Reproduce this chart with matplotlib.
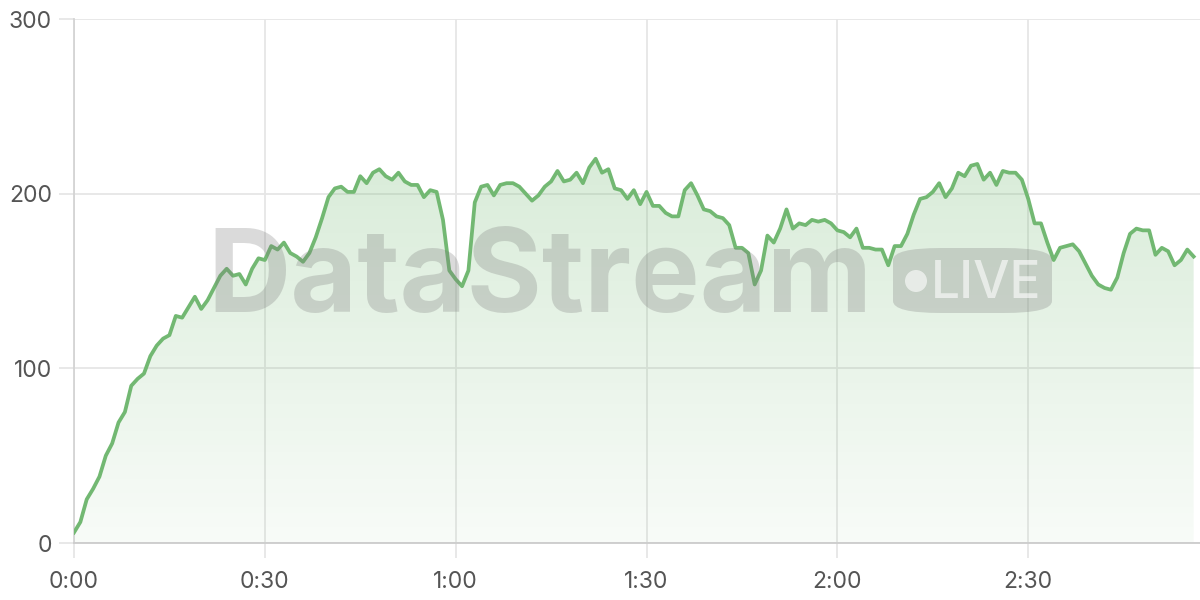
import numpy as np
import matplotlib
matplotlib.use("Agg")
import matplotlib.pyplot as plt
from matplotlib.colors import LinearSegmentedColormap
from matplotlib.patches import FancyBboxPatch, Ellipse

# one reading per second, 0:00 .. 2:56
values = [6, 12, 25, 31, 38, 50, 57, 69, 75, 90, 94, 97, 107, 113, 117, 119, 130, 129, 135, 141,
          134, 139, 146, 153, 157, 153, 154, 148, 157, 163, 162, 170, 168, 172, 166, 164, 161, 166, 175, 186,
          198, 203, 204, 201, 201, 210, 206, 212, 214, 210, 208, 212, 207, 205, 205, 198, 202, 201, 185, 156,
          151, 147, 156, 195, 204, 205, 199, 205, 206, 206, 204, 200, 196, 199, 204, 207, 213, 207, 208, 212,
          206, 215, 220, 212, 214, 203, 202, 197, 202, 194, 201, 193, 193, 189, 187, 187, 202, 206, 199, 191,
          190, 187, 186, 182, 169, 169, 166, 148, 156, 176, 172, 180, 191, 180, 183, 182, 185, 184, 185, 183,
          179, 178, 175, 180, 169, 169, 168, 168, 159, 170, 170, 177, 188, 197, 198, 201, 206, 198, 203, 212,
          210, 216, 217, 208, 212, 205, 213, 212, 212, 208, 197, 183, 183, 172, 162, 169, 170, 171, 167, 160,
          153, 148, 146, 145, 152, 166, 177, 180, 179, 179, 165, 169, 167, 159, 162, 168, 164]
seconds = np.arange(len(values))
xtick_vals = [0, 30, 60, 90, 120, 150]
xtick_labels = ["0:00", "0:30", "1:00", "1:30", "2:00", "2:30"]
ytick_vals = [0, 100, 200, 300]

green = "#72b872"
grid_c = "#e6e6e6"
text_c = "#555555"

plt.rcParams['font.family'] = ['Inter', 'DejaVu Sans']

fig = plt.figure(figsize=(12, 6), dpi=100)
ax = fig.add_axes([74/1200, 57/600, 1 - 74/1200, (543-19)/600])
ax.set_xlim(0, 177)
ax.set_ylim(0, 300)

# gradient fill under the line
cmap = LinearSegmentedColormap.from_list("g", [(0.447, 0.722, 0.447, 0.05), (0.447, 0.722, 0.447, 0.27)])
grad = np.linspace(0, 1, 256).reshape(-1, 1)
ymax = max(values)
im = ax.imshow(grad, cmap=cmap, aspect="auto", origin="lower",
               extent=[0, seconds[-1], 0, ymax], zorder=1)
poly = ax.fill_between(seconds, values, 0, color="none")
clip = poly.get_paths()[0]
im.set_clip_path(clip, transform=ax.transData)

ax.plot(seconds, values, color=green, lw=2.7, zorder=3)

ax.set_xticks(xtick_vals)
ax.set_xticklabels(xtick_labels)
ax.set_yticks(ytick_vals)
ax.grid(True, color=grid_c, lw=1.3, zorder=0)
ax.set_axisbelow(True)
for s in ["top", "right"]:
    ax.spines[s].set_visible(False)
ax.spines["left"].set_color("#d4d4d4")
ax.spines["bottom"].set_color("#cccccc")
ax.spines["left"].set_linewidth(1.3)
ax.spines["bottom"].set_linewidth(1.3)
ax.tick_params(axis="both", colors=grid_c, width=1.3, length=11, labelcolor=text_c, labelsize=16.5)
ax.tick_params(axis="x", pad=9)
ax.tick_params(axis="y", pad=5)

# watermark
fig.text(540/1200, 1 - 312/600, "DataStream", fontsize=83, fontweight="bold",
         color="#7a7a7a", alpha=0.28, ha="center", va="baseline", zorder=10,
         family=["Inter", "DejaVu Sans"])
badge = FancyBboxPatch((893/1200, 1 - 313/600), 159/1200, 65/600,
                       boxstyle="round,pad=0,rounding_size=0.04", transform=fig.transFigure,
                       facecolor="#7a7a7a", alpha=0.28, edgecolor="none", zorder=10,
                       mutation_aspect=0.5)
fig.add_artist(badge)
fig.add_artist(Ellipse((916/1200, 1 - 281/600), 22/1200, 22/600, transform=fig.transFigure,
                       facecolor="white", alpha=0.6, edgecolor="none", zorder=11))
fig.text(986/1200, 1 - 298/600, "LIVE", fontsize=37, fontweight="medium", color="white", alpha=0.6,
         ha="center", va="baseline", zorder=11)

fig.savefig("out.png", dpi=100)
